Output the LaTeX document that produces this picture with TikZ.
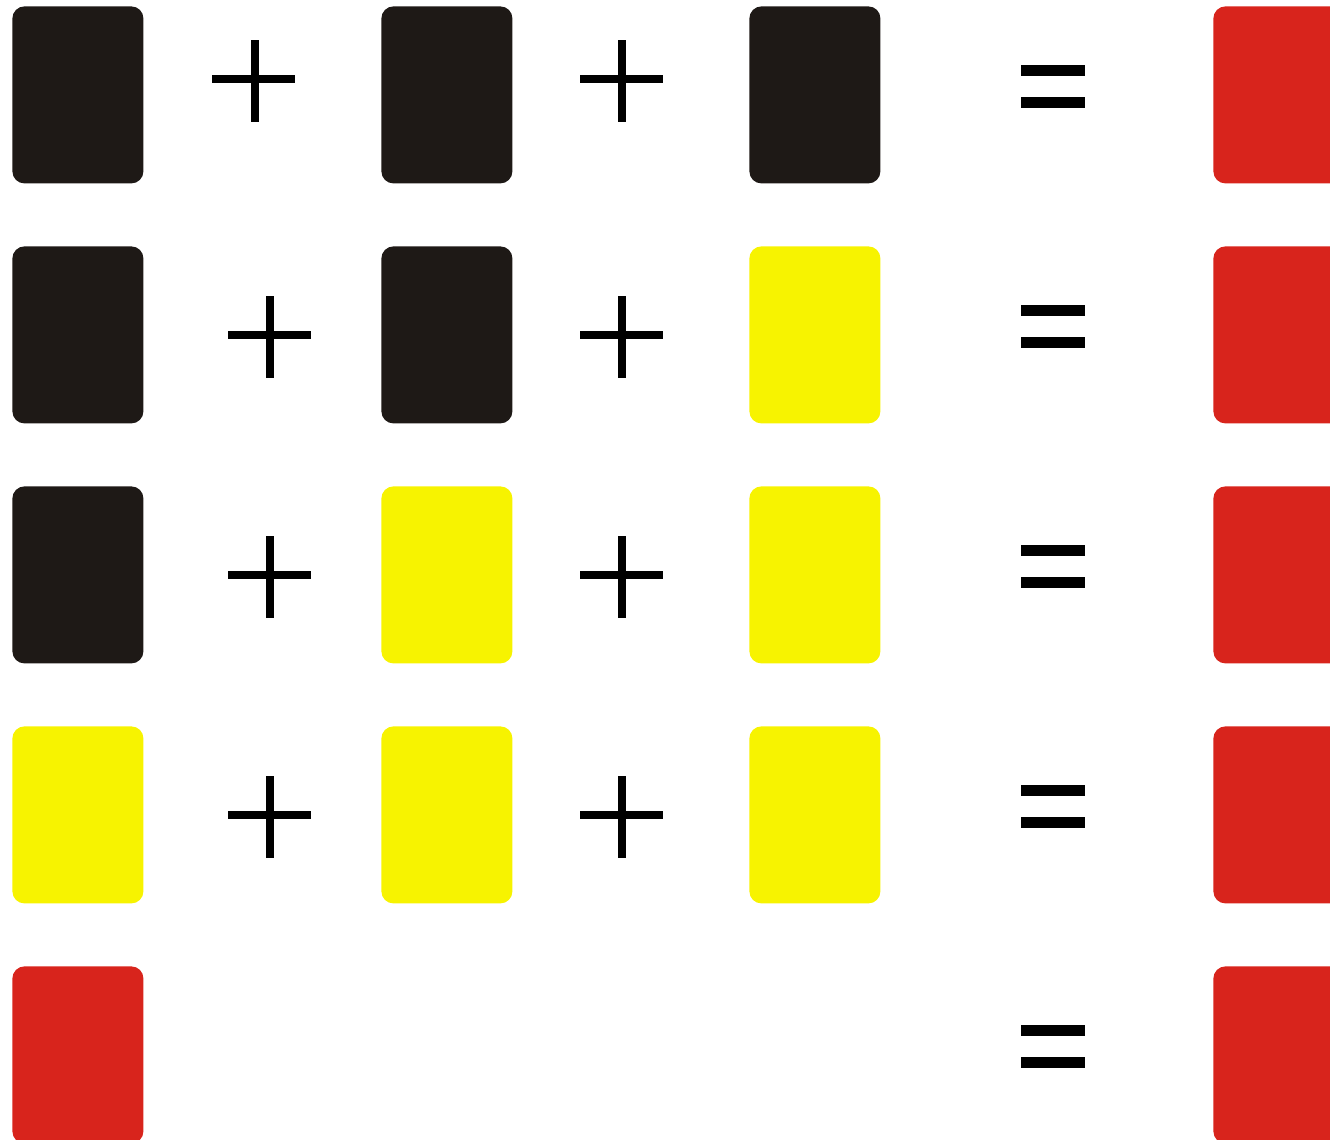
\documentclass[tikz,border=0pt]{standalone}
\definecolor{cardblack}{HTML}{1E1916}
\definecolor{cardyellow}{HTML}{F7F300}
\definecolor{cardred}{HTML}{D8241C}
\tikzset{
  card/.style={anchor=north west, inner sep=0pt, minimum width=65.5pt, minimum height=88.5pt, rounded corners=6pt, draw=none},
  blk/.style={card, fill=cardblack},
  yel/.style={card, fill=cardyellow},
  rd/.style={card, fill=cardred},
  sym/.style={fill=black}
}
\begin{document}
\begin{tikzpicture}[x=0.5pt,y=-0.5pt]
\useasboundingbox (0,0) rectangle (1330,1140);
\clip (0,0) rectangle (1330,1140);
% row 1
\node[blk] (a1) at (12,6) {};
\node[blk] (b1) at (381,6) {};
\node[blk] (c1) at (749,6) {};
\node[rd]  (d1) at (1213,6) {};
% row 2
\node[blk] (a2) at (12,246) {};
\node[blk] (b2) at (381,246) {};
\node[yel] (c2) at (749,246) {};
\node[rd]  (d2) at (1213,246) {};
% row 3
\node[blk] (a3) at (12,486) {};
\node[yel] (b3) at (381,486) {};
\node[yel] (c3) at (749,486) {};
\node[rd]  (d3) at (1213,486) {};
% row 4
\node[yel] (a4) at (12,726) {};
\node[yel] (b4) at (381,726) {};
\node[yel] (c4) at (749,726) {};
\node[rd]  (d4) at (1213,726) {};
% row 5
\node[rd]  (a5) at (12,966) {};
\node[rd]  (d5) at (1213,966) {};
% plus signs, row 1
\fill[sym] (212,74.5) rectangle (295,82.5);
\fill[sym] (250.5,40) rectangle (258.5,122);
\fill[sym] (580,74.5) rectangle (663,82.5);
\fill[sym] (618,40) rectangle (626,122);
% plus signs, rows 2-4
\foreach \y in {256,496,736}{
  \fill[sym] (228,74.5+\y) rectangle (311,82.5+\y);
  \fill[sym] (266,40+\y) rectangle (274,122+\y);
  \fill[sym] (580,74.5+\y) rectangle (663,82.5+\y);
  \fill[sym] (618,40+\y) rectangle (626,122+\y);
}
% equals signs
\foreach \y in {0,240,480,720,960}{
  \fill[sym] (1021,64.5+\y) rectangle (1085,75.5+\y);
  \fill[sym] (1021,96.5+\y) rectangle (1085,107.5+\y);
}
\end{tikzpicture}
\end{document}
